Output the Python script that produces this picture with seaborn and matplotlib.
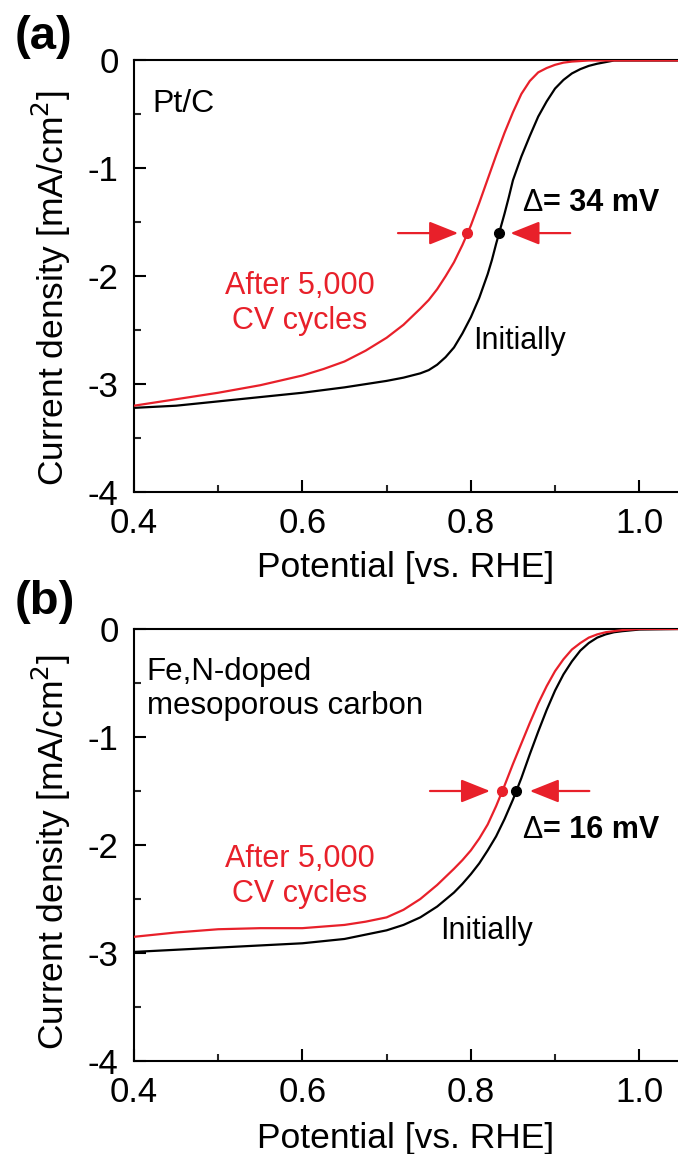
import numpy as np
import pandas as pd
import seaborn as sns
import matplotlib
matplotlib.use("Agg")
import matplotlib.pyplot as plt
from matplotlib.ticker import MultipleLocator

# ---------------- data ----------------
a_init_x = [0.40, 0.45, 0.50, 0.55, 0.60, 0.65, 0.70, 0.72, 0.74, 0.75, 0.76, 0.77,
            0.78, 0.79, 0.80, 0.81, 0.82, 0.825, 0.83, 0.835, 0.84, 0.845, 0.85, 0.86,
            0.87, 0.88, 0.89, 0.90, 0.91, 0.92, 0.93, 0.94, 0.95, 0.96, 0.97, 1.00, 1.046]
a_init_y = [-3.22, -3.20, -3.16, -3.12, -3.08, -3.03, -2.97, -2.94, -2.90, -2.87, -2.82, -2.75,
            -2.66, -2.53, -2.38, -2.20, -1.98, -1.85, -1.70, -1.56, -1.42, -1.27, -1.11, -0.89,
            -0.70, -0.52, -0.38, -0.26, -0.18, -0.12, -0.08, -0.05, -0.03, -0.015, 0.0, 0.0, 0.0]

a_after_x = [0.40, 0.45, 0.50, 0.55, 0.60, 0.625, 0.65, 0.675, 0.70, 0.72, 0.74, 0.75,
             0.76, 0.77, 0.78, 0.79, 0.80, 0.81, 0.82, 0.83, 0.84, 0.85, 0.86, 0.87,
             0.88, 0.89, 0.90, 0.91, 0.92, 0.94, 1.046]
a_after_y = [-3.20, -3.14, -3.08, -3.01, -2.92, -2.86, -2.79, -2.69, -2.57, -2.45, -2.30, -2.22,
             -2.12, -2.00, -1.87, -1.71, -1.53, -1.32, -1.10, -0.88, -0.67, -0.48, -0.31, -0.19,
             -0.11, -0.07, -0.04, -0.02, -0.01, 0.0, 0.0]

b_init_x = [0.40, 0.45, 0.50, 0.55, 0.60, 0.65, 0.675, 0.70, 0.72, 0.74, 0.76, 0.78,
            0.79, 0.80, 0.81, 0.82, 0.83, 0.84, 0.85, 0.86, 0.87, 0.88, 0.89, 0.90,
            0.91, 0.92, 0.93, 0.94, 0.95, 0.96, 0.97, 0.98, 1.00, 1.046]
b_init_y = [-2.99, -2.97, -2.95, -2.93, -2.91, -2.87, -2.83, -2.79, -2.74, -2.67, -2.57, -2.44,
            -2.36, -2.27, -2.17, -2.05, -1.92, -1.76, -1.58, -1.38, -1.16, -0.95, -0.75, -0.57,
            -0.42, -0.30, -0.20, -0.13, -0.08, -0.05, -0.03, -0.02, -0.005, 0.0]

b_after_x = [0.40, 0.45, 0.50, 0.55, 0.60, 0.65, 0.675, 0.70, 0.72, 0.74, 0.76, 0.78,
             0.79, 0.80, 0.81, 0.82, 0.83, 0.84, 0.85, 0.86, 0.87, 0.88, 0.89, 0.90,
             0.91, 0.92, 0.93, 0.94, 0.95, 0.96, 0.98, 1.00, 1.046]
b_after_y = [-2.85, -2.81, -2.78, -2.77, -2.77, -2.74, -2.71, -2.67, -2.60, -2.50, -2.37, -2.22,
             -2.14, -2.05, -1.94, -1.81, -1.64, -1.45, -1.25, -1.06, -0.87, -0.69, -0.53, -0.39,
             -0.28, -0.19, -0.13, -0.08, -0.05, -0.03, -0.01, 0.0, 0.0]

# half-wave marker points (red = after cycling, black = initial)
a_marks_x = [0.796, 0.8335]
a_marks_y = [-1.6, -1.6]
b_marks_x = [0.8367, 0.8537]
b_marks_y = [-1.5, -1.5]

panel_letters = ["(a)", "(b)"]
sample_names = ["Pt/C", "Fe,N-doped\nmesoporous carbon"]
delta_values = ["= 34 mV", "= 16 mV"]
after_label = "After 5,000\nCV cycles"
init_label = "Initially"
x_ticks = [0.4, 0.6, 0.8, 1.0]
x_ticklabels = ["0.4", "0.6", "0.8", "1.0"]
y_ticks = [0, -1, -2, -3, -4]
y_ticklabels = ["0", "-1", "-2", "-3", "-4"]

RED = "#E8202A"
BLACK = "#000000"

# ---------------- style ----------------
sns.set_theme(style="ticks")
plt.rcParams["font.family"] = ["Liberation Sans", "DejaVu Sans"]
plt.rcParams["axes.unicode_minus"] = False

fig = plt.figure(figsize=(6.78, 11.54), dpi=100)
ax_a = fig.add_axes([134 / 678, 1 - 492 / 1154, 544 / 678, 431.5 / 1154])
ax_b = fig.add_axes([134 / 678, 1 - 1061 / 1154, 544 / 678, 432 / 1154])

panels = [
    dict(ax=ax_a, ix=a_init_x, iy=a_init_y, rx=a_after_x, ry=a_after_y,
         mx=a_marks_x, my=a_marks_y, letter_y=37, ylab_y=0.472, xlab_y=-0.175,
         name_x=0.033, name_size=23,
         after_xy=(0.597, -2.25), init_xy=(0.803, -2.60), delta_xy=(0.861, -1.32),
         arrL=(0.7135, 0.785), arrR=(0.918, 0.847)),
    dict(ax=ax_b, ix=b_init_x, iy=b_init_y, rx=b_after_x, ry=b_after_y,
         mx=b_marks_x, my=b_marks_y, letter_y=602, ylab_y=0.484, xlab_y=-0.18,
         name_x=0.023, name_size=22.5,
         after_xy=(0.597, -2.29), init_xy=(0.763, -2.80), delta_xy=(0.8605, -1.86),
         arrL=(0.7515, 0.8228), arrR=(0.9407, 0.870)),
]

for i, p in enumerate(panels):
    ax = p["ax"]
    df_i = pd.DataFrame({"x": p["ix"], "y": p["iy"]})
    df_r = pd.DataFrame({"x": p["rx"], "y": p["ry"]})
    sns.lineplot(data=df_i, x="x", y="y", color=BLACK, lw=1.6, ax=ax,
                 estimator=None, sort=False, zorder=3)
    sns.lineplot(data=df_r, x="x", y="y", color=RED, lw=1.6, ax=ax,
                 estimator=None, sort=False, zorder=3)

    # markers
    ax.plot([p["mx"][0]], [p["my"][0]], "o", color=RED, ms=7, zorder=5)
    ax.plot([p["mx"][1]], [p["my"][1]], "o", color=BLACK, ms=7, zorder=5)

    # arrows
    yv = p["my"][0]
    for tail, tip in [p["arrL"], p["arrR"]]:
        ax.annotate("", xy=(tip, yv), xytext=(tail, yv),
                    arrowprops=dict(arrowstyle="-|>,head_length=0.9,head_width=0.36",
                                    color=RED, lw=1.6, mutation_scale=20,
                                    shrinkA=0, shrinkB=0), zorder=4)

    ax.set_xlim(0.4, 1.046)
    ax.set_ylim(-4, 0)
    ax.set_xticks(x_ticks)
    ax.set_xticklabels(x_ticklabels)
    ax.set_yticks(y_ticks)
    ax.set_yticklabels(y_ticklabels)
    ax.xaxis.set_minor_locator(MultipleLocator(0.1))
    ax.yaxis.set_minor_locator(MultipleLocator(0.5))
    ax.tick_params(which="major", direction="in", length=8.5, width=1.5,
                   labelsize=25, pad=11, colors=BLACK)
    ax.tick_params(which="minor", direction="in", length=5, width=1.5)
    for s in ["left", "bottom", "top"]:
        ax.spines[s].set_visible(True)
        ax.spines[s].set_linewidth(1.5)
        ax.spines[s].set_color(BLACK)
    ax.spines["right"].set_visible(False)

    ax.set_xlabel("Potential [vs. RHE]", fontsize=25.5, color=BLACK)
    ax.set_ylabel("Current density [mA/cm$^2$]", fontsize=25.5, color=BLACK)
    ax.xaxis.label.set_va("center")
    ax.yaxis.label.set_va("center")
    ax.xaxis.set_label_coords(0.5, p["xlab_y"])
    ax.yaxis.set_label_coords(-0.151, p["ylab_y"])

    # texts
    ax.text(p["name_x"], 0.935, sample_names[i], transform=ax.transAxes,
            ha="left", va="top", fontsize=p["name_size"], color=BLACK, linespacing=1.15)
    ax.text(*p["after_xy"], after_label, ha="center", va="center", fontsize=22,
            color=RED, linespacing=1.2)
    ax.text(*p["init_xy"], init_label, ha="left", va="center", fontsize=22, color=BLACK)
    ax.text(*p["delta_xy"], "\u0394", ha="left", va="center", fontsize=22,
            fontweight="normal", color=BLACK)
    ax.annotate(delta_values[i], xy=p["delta_xy"], xytext=(15, 0),
                textcoords="offset points", ha="left", va="center", fontsize=22,
                fontweight="bold", color=BLACK)

    fig.text(15 / 678, 1 - p["letter_y"] / 1154, panel_letters[i], ha="left", va="center",
             fontsize=34, fontweight="bold", color=BLACK)

fig.savefig("out.png", dpi=100)
